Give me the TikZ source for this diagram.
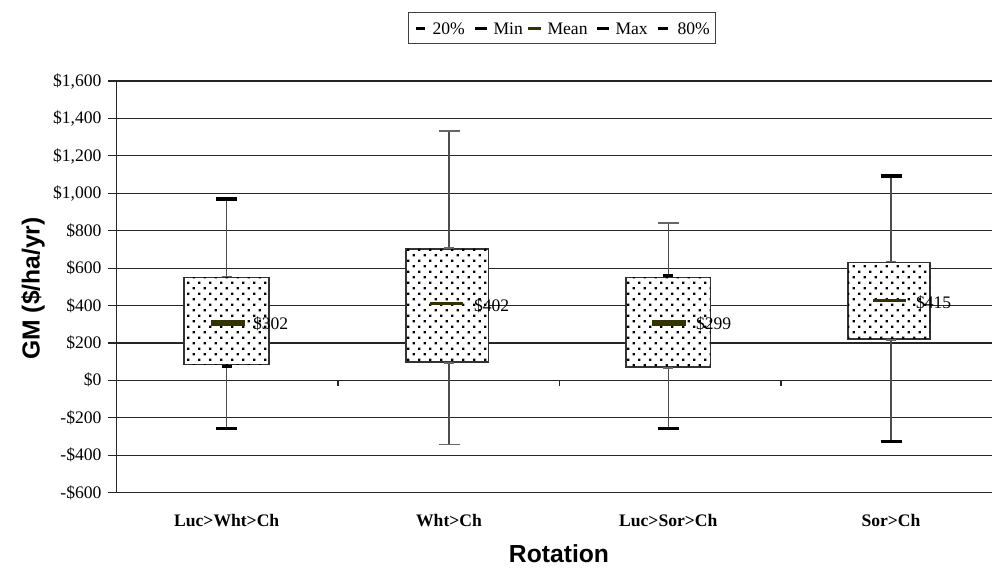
\documentclass[tikz,border=0pt]{standalone}
\usepackage{fontspec}
\setmainfont{Liberation Serif}
\newfontfamily\arialfont{Liberation Sans}
\usetikzlibrary{patterns}

\pgfdeclarepatternformonly{boxdots}{\pgfqpoint{-1pt}{-1pt}}{\pgfqpoint{9pt}{9pt}}{\pgfqpoint{8.25pt}{8.25pt}}{%
  \pgfpathrectangle{\pgfqpoint{0pt}{0pt}}{\pgfqpoint{1.8pt}{1.8pt}}%
  \pgfpathrectangle{\pgfqpoint{4.125pt}{4.125pt}}{\pgfqpoint{1.8pt}{1.8pt}}%
  \pgfusepath{fill}}

\definecolor{meanolive}{RGB}{51,51,0}
\newcommand{\chartfont}{\fontsize{13.2}{15}\selectfont}
\newcommand{\titlefont}{\arialfont\bfseries\fontsize{18.5}{21}\selectfont}

\tikzset{every picture/.style={line width=0.75pt}}
\tikzset{
  gridline/.style={draw=black!85, line width=0.8pt},
  whisker/.style={draw=black!70, line width=0.9pt},
  thincap/.style={draw=black!60, line width=0.9pt},
  thickcap/.style={draw=black, line width=2.4pt},
  updown/.style={draw=black!80, line width=0.9pt, fill=white, postaction={pattern=boxdots}},
  meanthick/.style={draw=meanolive, line width=4.5pt},
  meanthin/.style={draw=meanolive, line width=2.4pt},
  ticklabel/.style={anchor=base east, inner sep=0.75pt, font=\chartfont},
  catlabel/.style={anchor=base, inner sep=0.75pt, font=\chartfont\bfseries},
}

\begin{document}
\begin{tikzpicture}[x=0.75pt,y=0.75pt,yscale=-1,xscale=1]
\useasboundingbox (0,0) rectangle (992,570);

%Gridlines
\draw [gridline] (116.5,81) -- (992,81) ;
\draw [gridline] (116.5,118.4) -- (992,118.4) ;
\draw [gridline] (116.5,155.9) -- (992,155.9) ;
\draw [gridline] (116.5,193.3) -- (992,193.3) ;
\draw [gridline] (116.5,230.7) -- (992,230.7) ;
\draw [gridline] (116.5,268.1) -- (992,268.1) ;
\draw [gridline] (116.5,305.6) -- (992,305.6) ;
\draw [gridline] (116.5,343) -- (992,343) ;
\draw [gridline] (116.5,380.4) -- (992,380.4) ;
\draw [gridline] (116.5,417.9) -- (992,417.9) ;
\draw [gridline] (116.5,455.3) -- (992,455.3) ;
\draw [gridline] (116.5,492.7) -- (992,492.7) ;

%Value axis and its ticks
\draw [gridline] (116.5,81) -- (116.5,492.7) ;
\draw [gridline] (108,81) -- (116.5,81) (108,118.4) -- (116.5,118.4) (108,155.9) -- (116.5,155.9)
  (108,193.3) -- (116.5,193.3) (108,230.7) -- (116.5,230.7) (108,268.1) -- (116.5,268.1)
  (108,305.6) -- (116.5,305.6) (108,343) -- (116.5,343) (108,380.4) -- (116.5,380.4)
  (108,417.9) -- (116.5,417.9) (108,455.3) -- (116.5,455.3) (108,492.7) -- (116.5,492.7) ;
%Category ticks on the zero line
\draw [gridline] (116.5,380.4) -- (116.5,386.4) (338,380.4) -- (338,386.4) (559.5,380.4) -- (559.5,386.4) (781,380.4) -- (781,386.4) ;

%Whiskers
\draw [whisker] (226.7,199) -- (226.7,428.3) ;
\draw [whisker] (449,131) -- (449,444.7) ;
\draw [whisker] (668.3,223) -- (668.3,428.3) ;
\draw [whisker] (891,176) -- (891,441.3) ;

%Boxes
\draw [updown] (184,277.3) rectangle (269,364.3) ;
\draw [updown] (406,249) rectangle (488.3,362) ;
\draw [updown] (626,277.3) rectangle (710.3,367) ;
\draw [updown] (848,262.3) rectangle (930,339) ;

%Max and Min marks
\draw [thickcap] (216.2,199) -- (237.2,199) ;
\draw [thickcap] (216.2,428.3) -- (237.2,428.3) ;
\draw [thincap] (438.5,131) -- (459.5,131) ;
\draw [thincap] (438.5,444.7) -- (459.5,444.7) ;
\draw [thincap] (657.8,223) -- (678.8,223) ;
\draw [thickcap] (657.8,428.3) -- (678.8,428.3) ;
\draw [thickcap] (880.5,176) -- (901.5,176) ;
\draw [thickcap] (880.5,441.3) -- (901.5,441.3) ;

%80% and 20% marks
\draw [thincap] (221.7,276.5) -- (231.7,276.5) ;
\draw [thickcap] (221.7,366.5) -- (231.7,366.5) ;
\draw [thincap] (444,248) -- (454,248) ;
\draw [thincap] (444,363) -- (454,363) ;
\draw [thickcap] (663.3,275.8) -- (673.3,275.8) ;
\draw [thincap] (663.3,368) -- (673.3,368) ;
\draw [thincap] (886,261.3) -- (896,261.3) ;
\draw [thincap] (886,340) -- (896,340) ;

%Mean marks
\draw [meanthick] (211,322.7) -- (245,322.7) ;
\draw [meanthin] (430,303.3) -- (463,303.3) ;
\draw [meanthick] (652,322.7) -- (685.7,322.7) ;
\draw [meanthin] (873,300.3) -- (906,300.3) ;

% Text Node
\draw (251.5,329.5) node [anchor=base west][inner sep=0.75pt] [font=\chartfont] (mean1) {\$302};
% Text Node
\draw (472.5,311.5) node [anchor=base west][inner sep=0.75pt] [font=\chartfont] (mean2) {\$402};
% Text Node
\draw (694.5,329.5) node [anchor=base west][inner sep=0.75pt] [font=\chartfont] (mean3) {\$299};
% Text Node
\draw (914.5,308.5) node [anchor=base west][inner sep=0.75pt] [font=\chartfont] (mean4) {\$415};

% Tick labels
\draw (103,86.5) node [ticklabel] (y1600) {\$1,600};
\draw (103,123.9) node [ticklabel] (y1400) {\$1,400};
\draw (103,161.4) node [ticklabel] (y1200) {\$1,200};
\draw (103,198.8) node [ticklabel] (y1000) {\$1,000};
\draw (103,236.2) node [ticklabel] (y800) {\$800};
\draw (103,273.6) node [ticklabel] (y600) {\$600};
\draw (103,311.1) node [ticklabel] (y400) {\$400};
\draw (103,348.5) node [ticklabel] (y200) {\$200};
\draw (103,385.9) node [ticklabel] (y0) {\$0};
\draw (103,423.4) node [ticklabel] (ym200) {-\$200};
\draw (103,460.8) node [ticklabel] (ym400) {-\$400};
\draw (103,498.2) node [ticklabel] (ym600) {-\$600};

% Category labels
\draw (226.7,526) node [catlabel] (luwhch) {Luc>Wht>Ch};
\draw (449,526) node [catlabel] (whch) {Wht>Ch};
\draw (668.3,526) node [catlabel] (lusoch) {Luc>Sor>Ch};
\draw (891,526) node [catlabel] (soch) {Sor>Ch};

% Axis titles
\draw (559,562) node [anchor=base][inner sep=0.75pt] [font=\titlefont] (xtitle) {Rotation};
\draw (39.5,288.5) node [anchor=base][inner sep=0.75pt] [rotate=90] [font=\titlefont] (ytitle) {GM (\$/ha/yr)};

%Legend
\draw [draw=black!75, line width=0.9pt] (408.3,12.3) rectangle (715.7,43.3) ;
\draw [thickcap] (416,28.3) -- (425,28.3) ;
\draw (431,35) node [anchor=base west][inner sep=0.75pt] [font=\chartfont] (leg20) {20\%};
\draw [thickcap] (475,28.3) -- (487,28.3) ;
\draw (492,35) node [anchor=base west][inner sep=0.75pt] [font=\chartfont] (legmin) {Min};
\draw [meanolive, line width=2.4pt] (528,28.3) -- (541,28.3) ;
\draw (546,35) node [anchor=base west][inner sep=0.75pt] [font=\chartfont] (legmean) {Mean};
\draw [thickcap] (597,28.3) -- (609,28.3) ;
\draw (614,35) node [anchor=base west][inner sep=0.75pt] [font=\chartfont] (legmax) {Max};
\draw [thickcap] (658,28.3) -- (668,28.3) ;
\draw (676,35) node [anchor=base west][inner sep=0.75pt] [font=\chartfont] (leg80) {80\%};

\end{tikzpicture}
\end{document}
